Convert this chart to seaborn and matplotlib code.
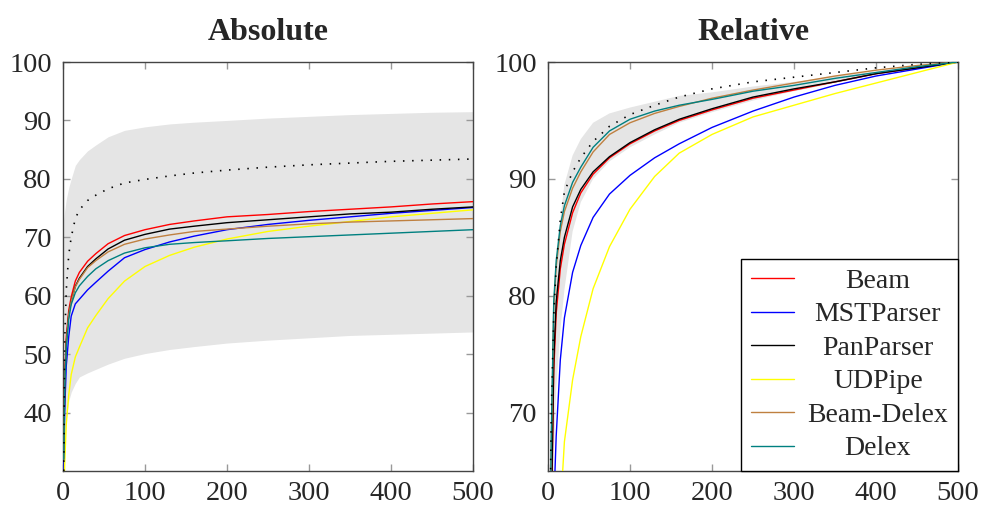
import matplotlib
matplotlib.use("Agg")
import matplotlib.pyplot as plt
import seaborn as sns
import pandas as pd

# Evaluation sizes along the x axis
sizes = [1, 2, 4, 7, 10, 15, 20, 30, 40, 55, 75, 100, 130, 160, 200, 250, 300, 350, 400, 450, 500]

parsers = ["Beam", "MSTParser", "PanParser", "UDPipe", "Beam-Delex", "Delex"]

# Absolute scores
abs_beam = [32, 46, 53, 57.5, 59.8, 62.5, 64.0, 65.9, 67.2, 68.9, 70.3, 71.3, 72.2, 72.8, 73.5, 73.9, 74.4, 74.8, 75.2, 75.7, 76.1]
abs_mst = [28, 40, 48, 53, 56.5, 58.6, 59.4, 61.0, 62.3, 64.2, 66.5, 67.9, 69.2, 70.2, 71.3, 72.2, 72.9, 73.5, 74.1, 74.6, 75.1]
abs_pan = [32, 45, 52, 56.8, 59.0, 61.6, 63.0, 65.0, 66.3, 68.0, 69.5, 70.5, 71.4, 71.9, 72.5, 73.0, 73.5, 74.0, 74.3, 74.8, 75.2]
abs_udpipe = [22, 31, 38, 43, 46.5, 49.5, 51.2, 54.5, 56.6, 59.5, 62.5, 65.0, 66.9, 68.3, 69.7, 71.0, 71.9, 72.7, 73.5, 74.1, 74.7]
abs_beam_delex = [32, 45, 52, 56.8, 59.0, 61.5, 62.8, 64.8, 66.0, 67.5, 68.8, 69.7, 70.4, 71.0, 71.4, 71.9, 72.3, 72.6, 72.8, 73.0, 73.2]
abs_delex = [32, 44, 51, 56, 58.5, 60.5, 61.7, 63.3, 64.6, 66.0, 67.3, 68.2, 68.8, 69.1, 69.4, 69.8, 70.1, 70.4, 70.7, 71.0, 71.3]
abs_mean = [30, 52, 61, 67, 70, 73.2, 74.7, 76.3, 77.2, 78.3, 79.3, 79.9, 80.5, 81.0, 81.5, 82.0, 82.4, 82.7, 83.0, 83.2, 83.4]
abs_upper = [73, 74.5, 76.5, 78.5, 80, 82.3, 83.3, 84.8, 85.8, 87.2, 88.3, 88.9, 89.4, 89.7, 90.0, 90.4, 90.7, 91.0, 91.2, 91.4, 91.5]
abs_lower = [30, 35, 39, 42, 43.5, 45.0, 46.1, 46.8, 47.4, 48.3, 49.3, 50.1, 50.8, 51.3, 51.9, 52.4, 52.8, 53.2, 53.4, 53.6, 53.8]

# Relative scores
rel_beam = [40, 50, 60, 73.5, 78.5, 82.3, 84.4, 87.1, 88.8, 90.4, 91.8, 93.0, 94.1, 95.0, 95.9, 96.9, 97.6, 98.3, 99.0, 99.5, 100]
rel_mst = [30, 40, 52, 62, 68, 74.5, 78.1, 82.0, 84.3, 86.7, 88.7, 90.3, 91.8, 93.0, 94.4, 95.8, 97.0, 98.0, 98.8, 99.4, 100]
rel_pan = [40, 50, 61, 74.5, 79.5, 83.0, 85.0, 87.6, 89.1, 90.6, 91.9, 93.1, 94.2, 95.1, 96.0, 97.0, 97.7, 98.3, 99.0, 99.5, 100]
rel_udpipe = [20, 25, 35, 45, 52, 61.5, 67.5, 72.8, 76.5, 80.6, 84.2, 87.4, 90.2, 92.2, 93.8, 95.3, 96.3, 97.3, 98.2, 99.1, 100]
rel_beam_delex = [45, 55, 67, 79, 82.5, 85.5, 87.2, 89.2, 90.6, 92.3, 93.8, 94.8, 95.6, 96.2, 96.9, 97.6, 98.2, 98.8, 99.3, 99.7, 100]
rel_delex = [45, 55, 68, 79.5, 83.0, 86.0, 87.7, 89.7, 91.0, 92.7, 94.1, 95.1, 95.8, 96.3, 96.8, 97.5, 98.0, 98.6, 99.1, 99.6, 100]
rel_mean = [50, 58, 70, 78.3, 82.5, 86.5, 88.9, 90.6, 91.8, 93.2, 94.5, 95.5, 96.3, 97.0, 97.7, 98.3, 98.7, 99.1, 99.5, 99.8, 100]
rel_upper = [55, 62, 71, 78, 82, 86.5, 89.5, 92.0, 93.4, 94.8, 95.6, 96.1, 96.6, 97.1, 97.4, 97.9, 98.3, 98.8, 99.2, 99.6, 100]
rel_lower = [35, 45, 56, 66, 72, 77, 80.5, 85.5, 88.0, 90.0, 91.5, 92.7, 93.8, 94.8, 95.7, 96.7, 97.5, 98.2, 98.9, 99.5, 100]

colors = {
    "Beam": "#ff0000",
    "MSTParser": "#0000ff",
    "PanParser": "#000000",
    "UDPipe": "#ffff00",
    "Beam-Delex": "#bf8040",
    "Delex": "#008080",
}


def long_frame(series):
    rows = []
    for name, values in zip(parsers, series):
        for s, v in zip(sizes, values):
            rows.append({"size": s, "score": v, "parser": name})
    return pd.DataFrame(rows)


sns.set_theme(style="white")
plt.rcParams["font.family"] = ["Liberation Serif", "DejaVu Serif"]

fig = plt.figure(figsize=(9.81, 5.05), dpi=100)
ax_abs = fig.add_axes([63 / 981, 1 - 471 / 505, 410 / 981, 409 / 505])
ax_rel = fig.add_axes([548 / 981, 1 - 471 / 505, 410 / 981, 409 / 505])

panels = [
    (ax_abs, "Absolute",
     [abs_beam, abs_mst, abs_pan, abs_udpipe, abs_beam_delex, abs_delex],
     abs_mean, abs_lower, abs_upper, (30, 100), [40, 50, 60, 70, 80, 90, 100]),
    (ax_rel, "Relative",
     [rel_beam, rel_mst, rel_pan, rel_udpipe, rel_beam_delex, rel_delex],
     rel_mean, rel_lower, rel_upper, (65, 100), [70, 80, 90, 100]),
]

for ax, title, series, mean, lower, upper, ylim, yticks in panels:
    ax.fill_between(sizes, lower, upper, color="#e5e5e5", lw=0, zorder=0)
    sns.lineplot(
        data=long_frame(series), x="size", y="score", hue="parser",
        hue_order=parsers, palette=colors, estimator=None, sort=False,
        linewidth=1.0, ax=ax, legend=(ax is ax_rel), zorder=3,
    )
    sns.lineplot(x=sizes, y=mean, color="black", linewidth=1.2,
                 linestyle=(0, (0.9, 4.6)), ax=ax, zorder=4)
    ax.set_xlim(0, 500)
    ax.set_ylim(*ylim)
    ax.set_xticks([0, 100, 200, 300, 400, 500])
    ax.set_yticks(yticks)
    ax.set_xlabel("")
    ax.set_ylabel("")
    ax.set_title(title, fontsize=23, fontweight="bold", pad=16)
    ax.tick_params(axis="both", which="both", direction="in", length=5,
                   width=1, color="#999999", labelsize=20.5,
                   top=True, right=True, left=True, bottom=True)
    ax.tick_params(axis="y", pad=8)
    ax.tick_params(axis="x", pad=7)
    for sp in ax.spines.values():
        sp.set_color("#444444")
        sp.set_linewidth(1.0)
        sp.set_visible(True)
    ax.grid(False)

handles, labels = ax_rel.get_legend_handles_labels()
leg = ax_rel.legend(
    handles, labels, loc="lower right", bbox_to_anchor=(1.0, 0.0),
    borderaxespad=0.0, fontsize=20, frameon=True, fancybox=False,
    edgecolor="black", framealpha=1.0, handlelength=1.55,
    handletextpad=0.5, labelspacing=0.29, borderpad=0.35,
)
leg.get_frame().set_linewidth(1.0)
for line in leg.get_lines():
    line.set_linewidth(1.0)

# Center the legend labels within their column
fig.canvas.draw()
renderer = fig.canvas.get_renderer()
texts = leg.get_texts()
widths = [t.get_window_extent(renderer).width for t in texts]
widest = max(widths)
for t, w in zip(texts, widths):
    t.set_position(((widest - w) / 2, 0))

fig.savefig("out.png", dpi=100)
